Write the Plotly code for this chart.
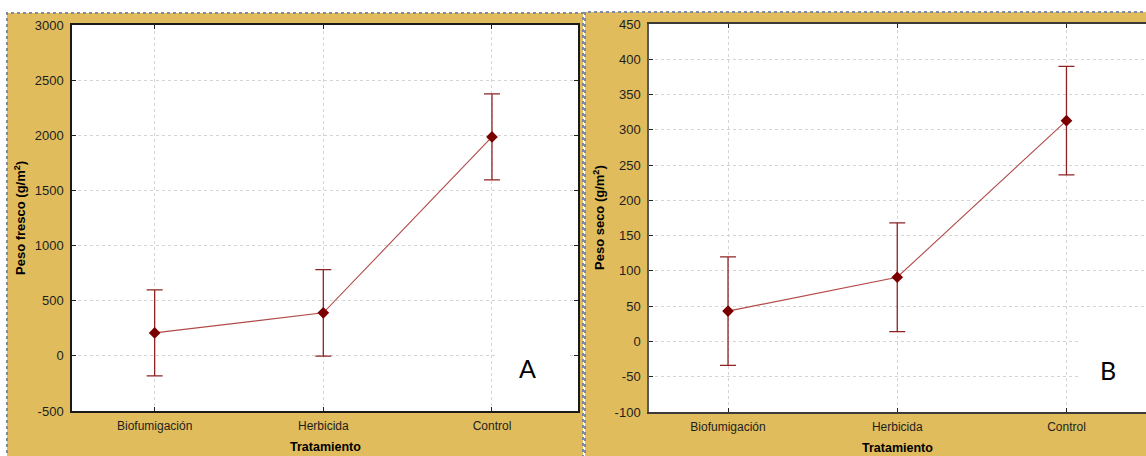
import plotly.graph_objects as go

W, H = 1146, 456

tratamientos = ["Biofumigación", "Herbicida", "Control"]
fresco_media = [208, 390, 1985]
fresco_ic = [390, 392, 390]
seco_media = [43, 91, 313]
seco_ic = [77, 77, 77]

fresco_ticks = [-500, 0, 500, 1000, 1500, 2000, 2500, 3000]
seco_ticks = [-100, -50, 0, 50, 100, 150, 200, 250, 300, 350, 400, 450]

GOLD = "#E0BC5C"
LINE_RED = "#B24A4A"
BAR_RED = "#8E2323"
MARK_RED = "#7A0000"
TXT = "#1E1E1E"
FONT = "Liberation Sans, Arial, sans-serif"


def px(x):
    return x / W


def py(y):
    return 1 - y / H


def labels(vals):
    # plain hyphen for negatives
    return [str(v) for v in vals]


fig = go.Figure()

for media, ic, xa, ya in [(fresco_media, fresco_ic, "x", "y"),
                          (seco_media, seco_ic, "x2", "y2")]:
    fig.add_trace(go.Scatter(
        x=tratamientos, y=media, xaxis=xa, yaxis=ya,
        mode="lines+markers",
        line=dict(color=LINE_RED, width=1.1),
        marker=dict(symbol="diamond", size=9, color=MARK_RED),
        error_y=dict(type="data", array=ic, visible=True,
                     color=BAR_RED, thickness=1.3, width=8),
        showlegend=False, cliponaxis=False,
    ))

grid = dict(showgrid=True, gridcolor="#D4D4D4", griddash="dot", gridwidth=1,
            zeroline=False, showline=True,
            ticks="inside", ticklen=4, tickcolor="#222",
            fixedrange=True, automargin=False)

fig.update_layout(
    width=W, height=H,
    margin=dict(l=0, r=0, t=0, b=0, autoexpand=False),
    paper_bgcolor="white",
    plot_bgcolor="rgba(0,0,0,0)",
    font=dict(family=FONT, color=TXT, size=12),
    xaxis=dict(domain=[px(72), px(578)], anchor="y", type="category",
               range=[-0.49, 2.51], linecolor="#1A1A1A", linewidth=1.5,
               mirror="ticks", tickfont=dict(size=12), ticklabelstandoff=3,
               **grid),
    yaxis=dict(domain=[py(411), py(25)], anchor="x", range=[-500, 3000],
               tickvals=fresco_ticks, ticktext=labels(fresco_ticks),
               linecolor="#1A1A1A", linewidth=1.5, mirror="ticks",
               tickfont=dict(size=13), ticklabelstandoff=4, **grid),
    xaxis2=dict(domain=[px(649), 1.0], anchor="y2", type="category",
                range=[-0.467, 2.47], linecolor="#3A3A3A", linewidth=1.5,
                mirror="ticks", tickfont=dict(size=12), ticklabelstandoff=3,
                **grid),
    yaxis2=dict(domain=[py(412), py(24)], anchor="x2", range=[-100, 450],
                tickvals=seco_ticks, ticktext=labels(seco_ticks),
                linecolor="#5A5A5A", linewidth=1.5, mirror=False,
                tickfont=dict(size=13), ticklabelstandoff=4, **grid),
)

shapes = []
# gold panel backgrounds with dotted frames
for x0, y0, x1 in [(7, 13, 583), (585, 12, 1160)]:
    shapes.append(dict(type="rect", xref="paper", yref="paper", layer="below",
                       x0=px(x0), x1=px(x1), y0=py(470), y1=py(y0),
                       fillcolor=GOLD,
                       line=dict(color="#7D8AA6", width=2, dash="dot")))
# white plotting areas
for x0, y0, x1, y1 in [(72, 25, 578, 411), (649, 24, 1150, 412)]:
    shapes.append(dict(type="rect", xref="paper", yref="paper", layer="below",
                       x0=px(x0), x1=px(x1), y0=py(y1), y1=py(y0),
                       fillcolor="white", line=dict(width=0)))
# white boxes behind the panel letters
for x0, y0, x1, y1 in [(497, 336, 568, 400), (1081, 320, 1146, 404)]:
    shapes.append(dict(type="rect", xref="paper", yref="paper", layer="above",
                       x0=px(x0), x1=px(x1), y0=py(y1), y1=py(y0),
                       fillcolor="white", line=dict(width=0)))
fig.update_layout(shapes=shapes)

annotations = [
    dict(text="Peso fresco (g/m<sup>2</sup>)", x=px(20), y=py(218),
         textangle=-90, font=dict(size=13, color="black", weight="bold")),
    dict(text="Peso seco (g/m<sup>2</sup>)", x=px(599), y=py(218),
         textangle=-90, font=dict(size=13, color="black", weight="bold")),
    dict(text="Tratamiento", x=px(325), y=py(447),
         font=dict(size=12.5, color="black", weight="bold")),
    dict(text="Tratamiento", x=px(897), y=py(448),
         font=dict(size=12.5, color="black", weight="bold")),
    dict(text="A", x=px(527), y=py(368),
         font=dict(family="Lato, Open Sans, sans-serif", size=25, color="black")),
    dict(text="B", x=px(1108), y=py(370),
         font=dict(family="Lato, Open Sans, sans-serif", size=25, color="black")),
]
for a in annotations:
    a.update(xref="paper", yref="paper", showarrow=False,
             xanchor="center", yanchor="middle")
fig.update_layout(annotations=annotations)

fig.write_html("out.html")
